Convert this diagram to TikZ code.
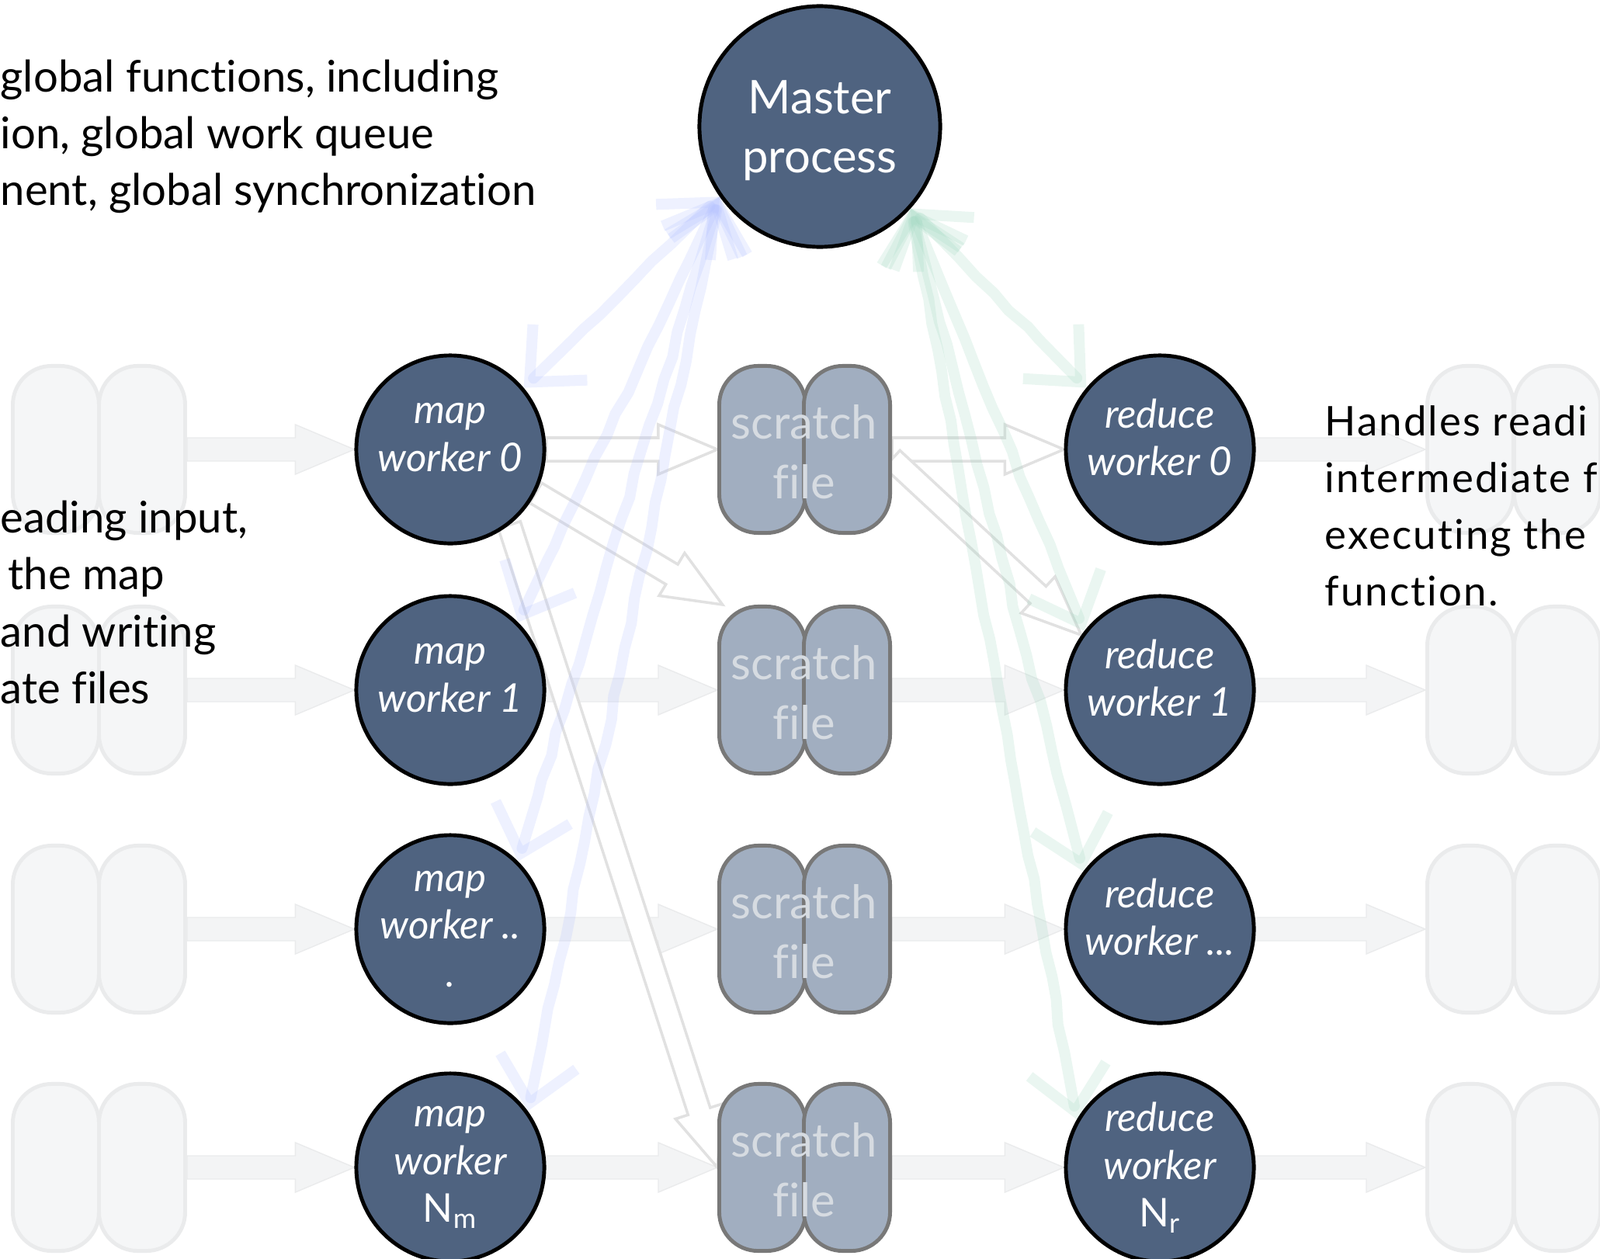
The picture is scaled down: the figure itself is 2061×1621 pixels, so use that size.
\documentclass[tikz,border=0pt]{standalone}
\usepackage{fontspec}
\setmainfont{Lato}[Ligatures=NoCommon]
\newfontfamily\widefont[LetterSpace=4, Ligatures=NoCommon]{Lato}
\usetikzlibrary{calc,arrows.meta,backgrounds,decorations.pathmorphing}

\definecolor{slate}{RGB}{79,99,128}
\definecolor{pillfill}{RGB}{161,174,192}
\definecolor{pillline}{RGB}{120,120,120}
\definecolor{pilltext}{RGB}{214,219,225}
\definecolor{ghostfill}{RGB}{245,246,247}
\definecolor{ghostline}{RGB}{234,235,236}
\definecolor{fatfill}{RGB}{243,244,245}
\definecolor{hollowline}{RGB}{225,225,225}
\definecolor{chalkblue}{RGB}{176,190,255}
\definecolor{chalkgreen}{RGB}{160,215,192}

\tikzset{
	worker/.style={circle, draw=black, line width=1.4pt, fill=slate, text=white, minimum size=2.42cm, inner sep=-3pt, align=center, font=\fontsize{14.5}{17.5}\selectfont\itshape},
	twoline/.style={text depth=9pt},
	master/.style={worker, minimum size=3.1cm, text depth=0pt, font=\fontsize{17}{21.5}\selectfont},
	pill/.style={rectangle, rounded corners=0.5cm, draw=pillline, line width=1.4pt, fill=pillfill, minimum width=1.11cm, minimum height=2.15cm},
	ghost/.style={pill, draw=ghostline, fill=ghostfill},
	pilltext/.style={text=pilltext, align=center, inner sep=0pt, font=\fontsize{17}{22}\selectfont},
	fat/.style={fill=fatfill, draw=ghostline, line width=0.4pt},
	hollow/.style={fill=white, draw=hollowline, line width=1pt},
	chalk/.style={line width=4pt, draw opacity=0.22, line cap=round, >={Straight Barb[length=0.55cm,width=1cm]}, <->, decorate, decoration={random steps, segment length=9pt, amplitude=0.6pt, pre length=25pt, post length=25pt}},
	note/.style={anchor=west, align=left, inner sep=0pt, font=\fontsize{16}{20.8}\selectfont}
}

% fat arrow from #2 to #3, drawn as an outline
\newcommand{\blockarrow}[3][fat]{%
	\coordinate (ba) at ($(#3)!0.76cm!(#2)$);
	\draw[#1] ($(#2)!0.15cm!90:(#3)$) -- ($(ba)!0.15cm!-90:(#2)$) -- ($(ba)!0.32cm!-90:(#2)$) -- (#3) -- ($(ba)!0.32cm!90:(#2)$) -- ($(ba)!0.15cm!90:(#2)$) -- ($(#2)!0.15cm!-90:(#3)$) -- cycle;
}

\begin{document}
\begin{tikzpicture}[x=0.01cm, y=-0.01cm]
	\useasboundingbox (0,0) rectangle (2061,1621);
	\clip (0,0) rectangle (2061,1621);

	% input and output files
	\node[ghost] (in0a) at (72,579) {};
	\node[ghost] (in0b) at (183,579) {};
	\node[ghost] (in1a) at (72,889) {};
	\node[ghost] (in1b) at (183,889) {};
	\node[ghost] (in2a) at (72,1197) {};
	\node[ghost] (in2b) at (183,1197) {};
	\node[ghost] (in3a) at (72,1504) {};
	\node[ghost] (in3b) at (183,1504) {};
	\node[ghost] (out0a) at (1894,579) {};
	\node[ghost] (out0b) at (2006,579) {};
	\node[ghost] (out1a) at (1894,889) {};
	\node[ghost] (out1b) at (2006,889) {};
	\node[ghost] (out2a) at (1894,1197) {};
	\node[ghost] (out2b) at (2006,1197) {};
	\node[ghost] (out3a) at (1894,1504) {};
	\node[ghost] (out3b) at (2006,1504) {};

	% scratch files
	\node[pill] (s0a) at (982,579) {};
	\node[pill] (s0b) at (1091,579) {};
	\node[pilltext] (s0) at (1036,582) {scratch\\file};
	\node[pill] (s1a) at (982,889) {};
	\node[pill] (s1b) at (1091,889) {};
	\node[pilltext] (s1) at (1036,892) {scratch\\file};
	\node[pill] (s2a) at (982,1197) {};
	\node[pill] (s2b) at (1091,1197) {};
	\node[pilltext] (s2) at (1036,1200) {scratch\\file};
	\node[pill] (s3a) at (982,1504) {};
	\node[pill] (s3b) at (1091,1504) {};
	\node[pilltext] (s3) at (1036,1507) {scratch\\file};

	% processes
	\node[master] (master) at (1056,163) {Master\\process};
	\node[worker, twoline] (map0) at (580,579) {map\\worker 0};
	\node[worker, twoline] (map1) at (580,889) {map\\worker 1};
	\node[worker] (map2) at (580,1197) {map\\worker ..\\.};
	\node[worker] (map3) at (580,1504) {map\\worker\\{\upshape N\textsubscript{m}}};
	\node[worker, twoline] (red0) at (1494,579) {reduce\\worker 0};
	\node[worker, twoline] (red1) at (1494,889) {reduce\\worker 1};
	\node[worker, twoline] (red2) at (1494,1197) {reduce\\worker ...};
	\node[worker] (red3) at (1494,1504) {reduce\\worker\\{\upshape N\textsubscript{r}}};

	% notes
	\node[note] (mastertxt) at (0,176) {global functions, including\\ion, global work queue\\nent, global synchronization};
	\node[note] (maptxt) at (0,776) {eading input,\\\hspace*{0.1cm}the map\\and writing\\ate files};
	\node[note, font=\fontsize{15}{20.8}\selectfont\widefont] (redtxt) at (1706,652) {Handles readi\\intermediate f\\executing the\\function.};

	\begin{pgfonlayer}{background}
		\blockarrow{in0b.east}{map0.west}
		\blockarrow{in1b.east}{map1.west}
		\blockarrow{in2b.east}{map2.west}
		\blockarrow{in3b.east}{map3.west}
		\blockarrow[hollow]{map0.east}{s0a.west}
		\blockarrow{map1.east}{s1a.west}
		\blockarrow{map2.east}{s2a.west}
		\blockarrow{map3.east}{s3a.west}
		\blockarrow[hollow]{s0b.east}{red0.west}
		\blockarrow{s1b.east}{red1.west}
		\blockarrow{s2b.east}{red2.west}
		\blockarrow{s3b.east}{red3.west}
		\blockarrow{red0.east}{out0a.west}
		\blockarrow{red1.east}{out1a.west}
		\blockarrow{red2.east}{out2a.west}
		\blockarrow{red3.east}{out3a.west}
		\blockarrow[hollow]{map0.-27}{s1a.115}
		\blockarrow[hollow]{map0.-52}{s3a.west}
		\blockarrow[hollow]{s0b.-12}{red1.145}
		% master talks to every worker
		\draw[chalk, draw=chalkblue] (master.215) -- (map0.40);
		\draw[chalk, draw=chalkblue] (master.215) -- (map1.45);
		\draw[chalk, draw=chalkblue] (master.215) -- (map2.45);
		\draw[chalk, draw=chalkblue] (master.215) -- (map3.36);
		\draw[chalk, draw=chalkgreen] (master.318) -- (red0.140);
		\draw[chalk, draw=chalkgreen] (master.318) -- (red1.142);
		\draw[chalk, draw=chalkgreen] (master.318) -- (red2.143);
		\draw[chalk, draw=chalkgreen] (master.318) -- (red3.150);
	\end{pgfonlayer}
\end{tikzpicture}
\end{document}
